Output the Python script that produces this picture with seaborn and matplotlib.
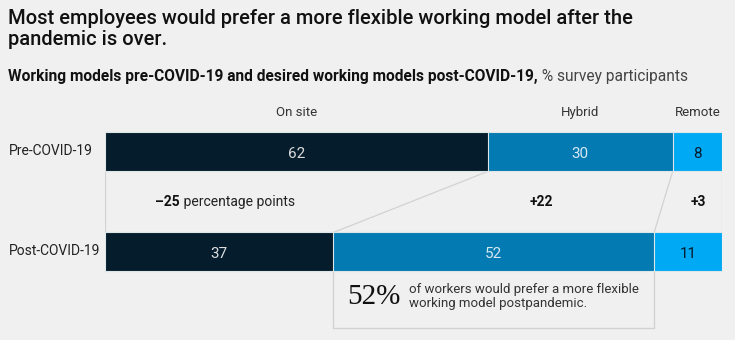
import matplotlib
matplotlib.use("Agg")
import matplotlib.pyplot as plt
import matplotlib.transforms as mtransforms
import seaborn as sns
import pandas as pd

# ---- data ----
periods = ["Pre-COVID-19", "Post-COVID-19"]
models = ["On site", "Hybrid", "Remote"]
on_site = [62, 37]
hybrid = [30, 52]
remote = [8, 11]
change_values = ["\u201325", "+22", "+3"]
change_suffix = [" percentage points", "", ""]
title = "Most employees would prefer a more flexible working model after the\npandemic is over."
subtitle_bold = "Working models pre-COVID-19 and desired working models post-COVID-19,"
subtitle_rest = " % survey participants"
callout_big = "52%"
callout_text = "of workers would prefer a more flexible\nworking model postpandemic."

# ---- style ----
BG = "#f0f0f0"
DARK = "#051c2c"
MID = "#037ab1"
LIGHT = "#00a9f4"
LINE = "#d2d2d2"
FONT = ["Roboto", "DejaVu Sans"]

sns.set_theme(style="white")
plt.rcParams["font.family"] = FONT

W, H = 735, 340
fig = plt.figure(figsize=(W / 100, H / 100), dpi=100, facecolor=BG)

# axes: x from 105px to 722px, 100 px per y unit, y=0 centred at 152px
left_px, right_px = 105, 722
top_px = 102
ax = fig.add_axes([left_px / W, 1 - (top_px + 230) / H, (right_px - left_px) / W, 230 / H])
ax.set_facecolor("none")

df = pd.DataFrame({"period": periods, "On site": on_site, "Hybrid": hybrid, "Remote": remote})
df["c1"] = df["On site"]
df["c2"] = df["c1"] + df["Hybrid"]
df["c3"] = df["c2"] + df["Remote"]

BW = 0.39
for col, color in [("c3", LIGHT), ("c2", MID), ("c1", DARK)]:
    sns.barplot(data=df, x=col, y="period", color=color, width=BW, saturation=1,
                edgecolor="#dfe6ea", linewidth=0.8, ax=ax)

ax.set_xlim(0, df["c3"].max())
ax.set_ylim(1.8, -0.5)
ax.axis("off")

# value labels
val_colors = ["#dcdcdc", "#d6e8f2", DARK]
for i in range(len(periods)):
    starts = [0, df["c1"][i], df["c2"][i]]
    vals = [on_site[i], hybrid[i], remote[i]]
    for j, (s, v) in enumerate(zip(starts, vals)):
        ax.text(s + v / 2, i + 0.02, str(v), ha="center", va="center",
                fontsize=11, color=val_colors[j], fontfamily=FONT)

# column headers over pre segments
starts0 = [0, df["c1"][0], df["c2"][0]]
vals0 = [on_site[0], hybrid[0], remote[0]]
for m, s, v in zip(models, starts0, vals0):
    ax.text(s + v / 2, -0.39, m, ha="center", va="center", fontsize=9.5,
            color="#333333", fontfamily=FONT)

# category labels
tr = mtransforms.blended_transform_factory(fig.transFigure, ax.transData)
for i, p in enumerate(periods):
    ax.text(9 / W, i - 0.01, p, transform=tr, ha="left", va="center",
            fontsize=10, color="#222222", fontfamily=FONT)

# connecting lines
yb, yt = BW / 2, 1 - BW / 2
for a, b in [(0, 0), (df["c1"][0], df["c1"][1]), (df["c2"][0], df["c2"][1]), (df["c3"][0], df["c3"][1])]:
    ax.plot([a, b], [yb, yt], color=LINE, lw=0.9, zorder=0)

# change labels
change_x = [19.5, 70.8, 96.2]
for x, v, suf in zip(change_x, change_values, change_suffix):
    if suf:
        t = ax.text(x, 0.5, v + suf, ha="center", va="center", fontsize=10, alpha=0)
        fig.canvas.draw()
        bb = t.get_window_extent()
        inv = ax.transData.inverted()
        x0 = inv.transform((bb.x0, bb.y0))[0]
        tb = ax.text(x0, 0.5, v, ha="left", va="center", fontsize=10, fontweight="bold",
                     color="#111111", fontfamily=FONT)
        ax.annotate(suf, xy=(1, 0.5), xycoords=tb, ha="left", va="center",
                    fontsize=10, color="#222222", fontfamily=FONT)
    else:
        ax.text(x, 0.5, v, ha="center", va="center", fontsize=10, fontweight="bold",
                color="#111111", fontfamily=FONT)

# callout box
bx0, bx1 = df["c1"][1], df["c2"][1]
by0, by1 = 1 + BW / 2, 1.76
ax.plot([bx0, bx0, bx1, bx1], [by0, by1, by1, by0], color=LINE, lw=1.0, zorder=0, clip_on=False)
ax.text(bx0 + 2.3, 1.45, callout_big, ha="left", va="center", fontsize=21,
        color="#111111", fontfamily=["Liberation Serif", "DejaVu Serif"])
ax.text(bx0 + 12.2, 1.445, callout_text, ha="left", va="center", fontsize=9.5,
        color="#333333", fontfamily=FONT, linespacing=1.0)

# title and subtitle
fig.text(8 / W, 1 - 29 / H, title, ha="left", va="center", fontsize=14.5,
         fontweight="medium", color="#111111", fontfamily=FONT, linespacing=1.15)
st = fig.text(8 / W, 1 - 76 / H, subtitle_bold, ha="left", va="center", fontsize=11.2,
              fontweight="bold", color="#111111", fontfamily=FONT)
ax.annotate(subtitle_rest, xy=(1, 0.5), xycoords=st, ha="left", va="center",
            fontsize=11.2, color="#444444", fontfamily=FONT)

fig.savefig("out.png", dpi=100, facecolor=BG)
